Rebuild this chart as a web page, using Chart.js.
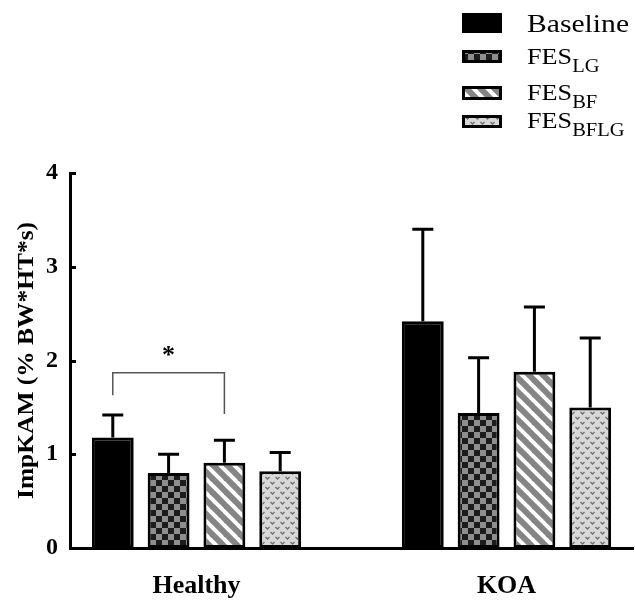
<!DOCTYPE html>
<html lang="en">
<head>
  <meta charset="UTF-8">
  <title>ImpKAM</title>
  <script src="https://cdn.jsdelivr.net/npm/chart.js"></script>
  <style>
    body { margin: 0; background: #fff; }
    #wrap { width: 635px; height: 601px; }
  </style>
</head>
<body>
  <div id="wrap"><canvas id="kamChart"></canvas></div>
  <script>
    const groups = ['Healthy', 'KOA'];
    const seriesMain = ['Baseline', 'FES', 'FES', 'FES'];
    const seriesSub = ['', 'LG', 'BF', 'BFLG'];
    const baseline = [1.18, 2.42];
    const fesLG = [0.80, 1.44];
    const fesBF = [0.91, 1.88];
    const fesBFLG = [0.82, 1.50];
    const baselineSD = [0.24, 0.98];
    const fesLGSD = [0.20, 0.59];
    const fesBFSD = [0.24, 0.69];
    const fesBFLGSD = [0.20, 0.74];
    const yTicks = [0, 1, 2, 3, 4];
    const yTitle = 'ImpKAM (% BW*HT*s)';
    // Healthy: Baseline vs FES_BF, p < 0.05
    const bracket = { group: 0, from: 0, to: 2, top: 1.87, leftEnd: 1.63, rightEnd: 1.43, mark: '*' };

    const values = [baseline, fesLG, fesBF, fesBFLG];
    const sds = [baselineSD, fesLGSD, fesBFSD, fesBFLGSD];
    const serif = "'Liberation Serif', 'Times New Roman', serif";

    const ctx = document.getElementById('kamChart').getContext('2d');

    function tile(w, h, draw) {
      const c = document.createElement('canvas');
      c.width = w; c.height = h;
      draw(c.getContext('2d'));
      return ctx.createPattern(c, 'repeat');
    }

    const checker = tile(12, 12, g => {
      g.fillStyle = '#8e8e8e';
      g.fillRect(0, 0, 12, 12);
      g.fillStyle = '#1c1c1c';
      g.fillRect(0, 0, 6, 6);
      g.fillRect(6, 6, 6, 6);
    });

    const stripes = tile(14, 14, g => {
      g.fillStyle = '#fff';
      g.fillRect(0, 0, 14, 14);
      g.strokeStyle = '#858585';
      g.lineWidth = 6;
      for (let x = -14; x <= 14; x += 14) {
        g.beginPath();
        g.moveTo(x - 2, -2);
        g.lineTo(x + 16, 16);
        g.stroke();
      }
    });

    const dotted = tile(10, 10, g => {
      g.fillStyle = '#d8d8d8';
      g.fillRect(0, 0, 10, 10);
      g.strokeStyle = '#6e6e6e';
      g.lineWidth = 1.3;
      [[2.5, 2], [7.5, 7]].forEach(([x, y]) => {
        g.beginPath();
        g.moveTo(x - 2, y);
        g.lineTo(x, y + 2);
        g.lineTo(x + 2, y);
        g.stroke();
      });
    });

    const fills = ['#000', checker, stripes, dotted];

    const errorBars = {
      id: 'errorBars',
      afterDatasetsDraw(chart) {
        const c = chart.ctx, y = chart.scales.y;
        c.save();
        c.strokeStyle = '#000';
        c.lineWidth = 3;
        chart.data.datasets.forEach((ds, i) => {
          chart.getDatasetMeta(i).data.forEach((bar, g) => {
            const top = y.getPixelForValue(values[i][g] + sds[i][g]);
            c.beginPath();
            c.moveTo(bar.x, bar.y);
            c.lineTo(bar.x, top);
            c.moveTo(bar.x - 10.5, top);
            c.lineTo(bar.x + 10.5, top);
            c.stroke();
          });
        });
        c.restore();
      }
    };

    const extras = {
      id: 'extras',
      afterDraw(chart) {
        const c = chart.ctx, y = chart.scales.y, area = chart.chartArea;
        c.save();
        // inward y ticks
        c.strokeStyle = '#000';
        c.lineWidth = 3;
        yTicks.forEach(v => {
          if (v === 0) return;
          const py = Math.round(y.getPixelForValue(v)) + 0.5;
          c.beginPath();
          c.moveTo(area.left, py);
          c.lineTo(area.left + 6, py);
          c.stroke();
        });

        // y axis title
        c.save();
        c.translate(27, (area.top + area.bottom) / 2);
        c.rotate(-Math.PI / 2);
        c.fillStyle = '#000';
        c.font = 'bold 24px ' + serif;
        c.textAlign = 'center';
        c.textBaseline = 'middle';
        c.scale(1.06, 1);
        c.fillText(yTitle, 0, 0);
        c.restore();

        // significance bracket
        const x1 = chart.getDatasetMeta(bracket.from).data[bracket.group].x;
        const x2 = chart.getDatasetMeta(bracket.to).data[bracket.group].x;
        const top = y.getPixelForValue(bracket.top);
        c.strokeStyle = '#555';
        c.lineWidth = 1.5;
        c.beginPath();
        c.moveTo(x1, y.getPixelForValue(bracket.leftEnd));
        c.lineTo(x1, top);
        c.lineTo(x2, top);
        c.lineTo(x2, y.getPixelForValue(bracket.rightEnd));
        c.stroke();
        c.fillStyle = '#000';
        c.font = 'bold 26px ' + serif;
        c.textAlign = 'center';
        c.textBaseline = 'alphabetic';
        c.fillText(bracket.mark, (x1 + x2) / 2, top - 10);

        // legend
        const rows = [
          { boxTop: 13, boxH: 20, base: 32, size: 26 },
          { boxTop: 50, boxH: 13, base: 64, size: 23 },
          { boxTop: 86, boxH: 14, base: 100, size: 23 },
          { boxTop: 115, boxH: 13, base: 128, size: 23 }
        ];
        c.textAlign = 'left';
        rows.forEach((r, i) => {
          c.fillStyle = fills[i];
          c.fillRect(462, r.boxTop, 40, r.boxH);
          c.strokeStyle = '#000';
          c.lineWidth = 3;
          c.strokeRect(463.5, r.boxTop + 1.5, 37, r.boxH - 3);
          c.fillStyle = '#000';
          c.save();
          c.translate(527, r.base);
          c.scale(1.14, 1);
          c.font = r.size + 'px ' + serif;
          c.fillText(seriesMain[i], 0, 0);
          const w = c.measureText(seriesMain[i]).width;
          if (seriesSub[i]) {
            c.font = '18px ' + serif;
            c.fillText(seriesSub[i], w, 8);
          }
          c.restore();
        });
        c.restore();
      }
    };

    new Chart(ctx, {
      type: 'bar',
      data: {
        datasets: values.map((vals, i) => ({
          label: seriesMain[i] + seriesSub[i],
          data: vals.map((v, g) => ({ x: g, y: v })),
          backgroundColor: fills[i],
          borderColor: '#000',
          borderWidth: 3,
          borderSkipped: false,
          categoryPercentage: 0.72,
          barPercentage: 0.75
        }))
      },
      options: {
        responsive: true,
        maintainAspectRatio: false,
        animation: false,
        layout: { padding: { top: 173, right: 2, left: 0, bottom: 0 } },
        plugins: {
          legend: { display: false },
          tooltip: { enabled: false }
        },
        scales: {
          x: {
            type: 'linear',
            offset: false,
            min: -0.408,
            max: 1.408,
            afterBuildTicks: s => { s.ticks = groups.map((g, i) => ({ value: i })); },
            afterFit: s => { s.height = 53; },
            grid: { display: false, offset: false },
            border: { color: '#000', width: 3 },
            ticks: {
              callback: v => groups[v],
              color: '#000',
              padding: 15,
              maxRotation: 0,
              font: { family: serif, size: 26, weight: 'bold' }
            }
          },
          y: {
            min: 0,
            max: 4,
            afterFit: s => { s.width = 70; },
            grid: { display: false },
            border: { color: '#000', width: 3 },
            ticks: {
              stepSize: 1,
              color: '#000',
              padding: 4,
              font: { family: serif, size: 24, weight: 'bold' }
            }
          }
        }
      },
      plugins: [errorBars, extras]
    });
  </script>
</body>
</html>
